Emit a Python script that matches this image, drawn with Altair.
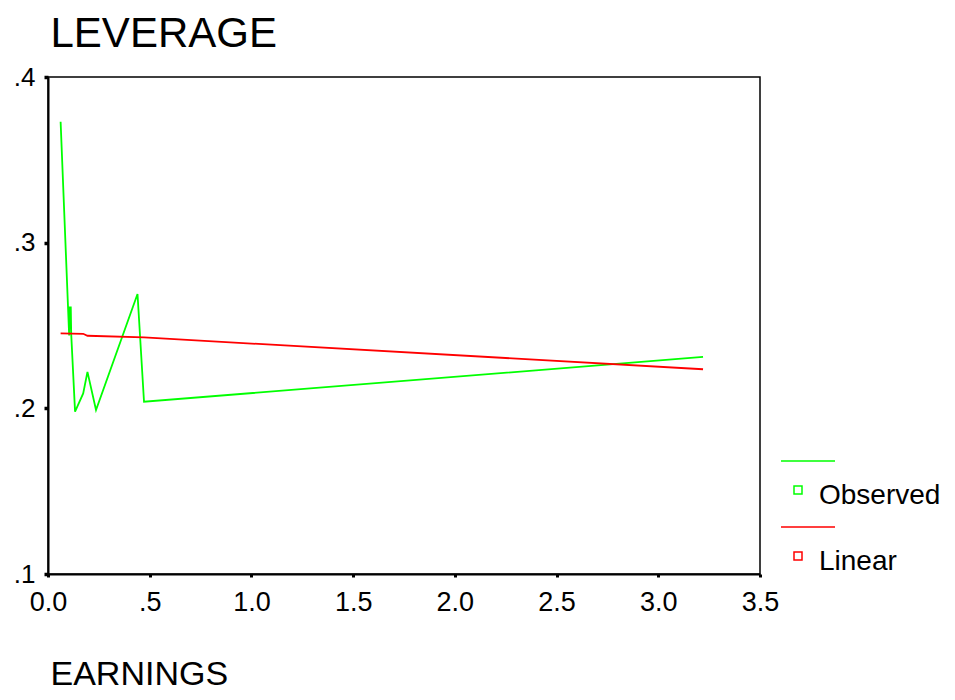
import altair as alt
import pandas as pd

# Observed series (EARNINGS vs LEVERAGE)
obs_x = [0.062, 0.104, 0.107, 0.112, 0.114, 0.133, 0.173, 0.194, 0.236, 0.440, 0.472, 3.22]
obs_y = [0.373, 0.244, 0.261, 0.261, 0.245, 0.198, 0.209, 0.222, 0.199, 0.269, 0.204, 0.231]
# Linear fit series
lin_x = [0.062, 0.173, 0.194, 0.472, 3.22]
lin_y = [0.2452, 0.2450, 0.2438, 0.2428, 0.2236]

series_names = ["Observed", "Linear"]
series_colors = ["#00ff00", "#ff0000"]
x_ticks = [0.0, 0.5, 1.0, 1.5, 2.0, 2.5, 3.0, 3.5]
y_ticks = [0.1, 0.2, 0.3, 0.4]

rows = [{"EARNINGS": x, "LEVERAGE": y, "series": "Observed", "i": k}
        for k, (x, y) in enumerate(zip(obs_x, obs_y))]
rows += [{"EARNINGS": x, "LEVERAGE": y, "series": "Linear", "i": k}
         for k, (x, y) in enumerate(zip(lin_x, lin_y))]
df = pd.DataFrame(rows)

FONT = "Liberation Sans"
legend_symbol = "M-4.25,-8.75H9.25M-1,-2.5H1V-0.5H-1Z"

chart = alt.Chart(df).mark_line(strokeWidth=1.8).encode(
    x=alt.X("EARNINGS:Q",
            scale=alt.Scale(domain=[0, 3.5], nice=False, zero=False),
            axis=alt.Axis(
                values=x_ticks, grid=False, title="EARNINGS",
                labelExpr="datum.value > 0 && datum.value < 1 ? '.' + format(datum.value*10, '.0f') : format(datum.value, '.1f')",
                labelFont=FONT, labelFontSize=27, labelColor="black",
                labelPadding=12, tickSize=3, tickWidth=3, tickColor="black",
                domainColor="black", domainWidth=2,
                titleFont=FONT, titleFontSize=34, titleFontWeight="normal", titleColor="black",
                titleX=2, titleY=110, titleAlign="left", titleAnchor="start",
                titleBaseline="alphabetic", labelFlush=False, labelOverlap=False)),
    y=alt.Y("LEVERAGE:Q",
            scale=alt.Scale(domain=[0.1, 0.4], nice=False, zero=False),
            axis=alt.Axis(
                values=y_ticks, grid=False, title="LEVERAGE",
                labelExpr="'.' + format(datum.value*10, '.0f')",
                labelFont=FONT, labelFontSize=26, labelColor="black",
                labelPadding=9, tickSize=4, tickWidth=3.5, tickColor="black",
                domainColor="black", domainWidth=2,
                titleFont=FONT, titleFontSize=42, titleFontWeight="normal", titleColor="black",
                titleAngle=0, titleX=2, titleY=-31, titleAlign="left", titleAnchor="start",
                titleBaseline="alphabetic", labelFlush=False, labelOverlap=False)),
    color=alt.Color("series:N",
                    scale=alt.Scale(domain=series_names, range=series_colors),
                    legend=alt.Legend(
                        title=None, orient="none", legendX=736, legendY=405,
                        symbolType=legend_symbol, symbolSize=64, symbolStrokeWidth=1.5,
                        symbolFillColor="transparent", symbolOffset=0,
                        labelFont=FONT, labelFontSize=28, labelColor="black",
                        labelOffset=7, rowPadding=14, padding=0)),
    order="i:Q",
).properties(
    width=712, height=497,
    background="white",
    autosize=alt.AutoSizeParams(type="none"),
    padding={"left": 40, "top": 69, "right": 187, "bottom": 118},
).configure_view(
    stroke="black", strokeWidth=1.5
)

chart.save("out.html", embed_options={"renderer": "svg", "actions": False})
